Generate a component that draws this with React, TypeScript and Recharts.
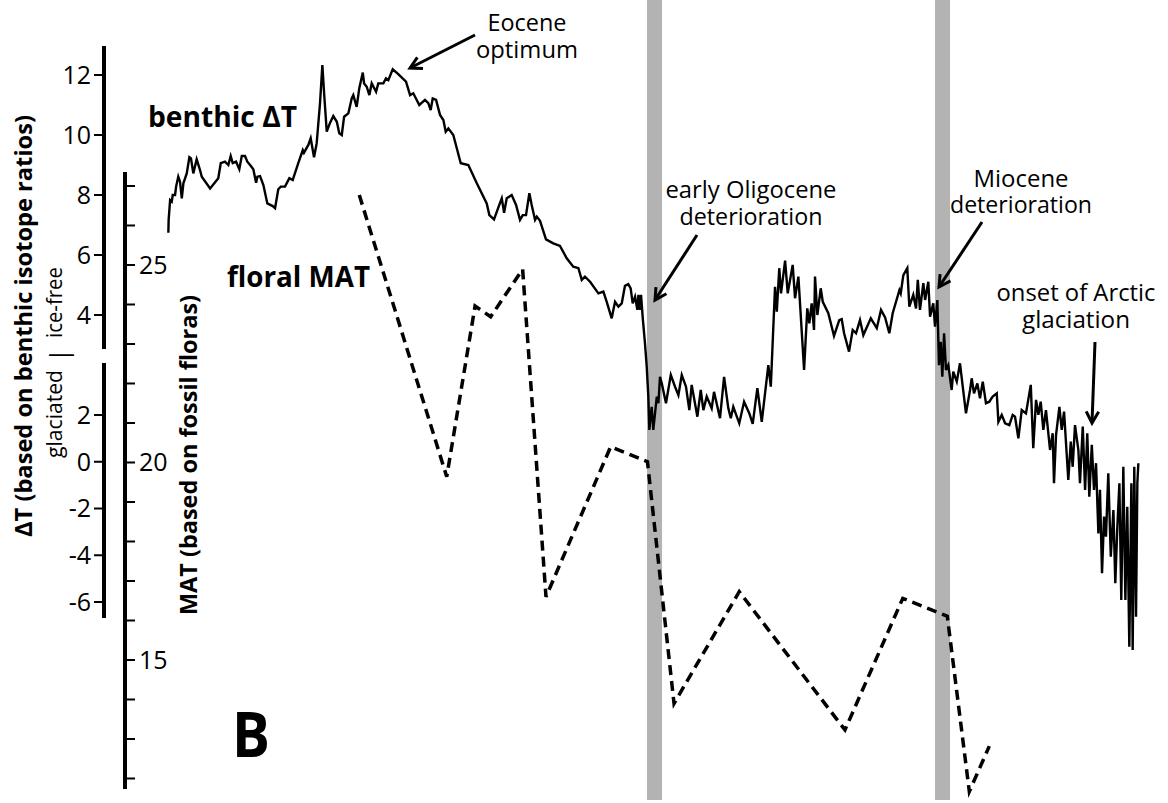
import React from 'react';
import { LineChart, Line, XAxis, YAxis, ReferenceArea } from 'recharts';

const W = 1168;
const H = 803;
const FONT = '"Open Sans", "Noto Sans", sans-serif';

// ---- data (age in Ma, older to the left) ----
const benthicAge = [
  67.03, 67.01, 66.91, 66.8, 66.73, 66.57, 66.5, 66.35, 66.23, 66.11,
  66.0, 65.77, 65.59, 65.48, 65.32, 65.09, 64.86, 64.74, 64.17, 63.61,
  63.44, 63.15, 62.92, 62.76, 62.62, 62.39, 62.17, 62.0, 61.78, 61.62,
  61.43, 61.21, 61.02, 60.93, 60.75, 60.52, 60.25, 59.88, 59.72, 59.5,
  59.33, 59.04, 58.74, 58.51, 58.13, 57.82, 57.74, 57.44, 57.28, 57.05,
  56.87, 56.64, 56.48, 56.36, 56.18, 55.95, 55.73, 55.49, 55.32, 55.15,
  54.99, 54.7, 54.47, 54.36, 54.13, 53.95, 53.71, 53.62, 53.44, 53.26,
  53.1, 52.8, 52.65, 52.3, 52.12, 51.96, 51.66, 51.28, 50.75, 50.47,
  50.25, 49.84, 49.45, 49.22, 49.06, 48.92, 48.69, 48.42, 48.19, 48.03,
  47.85, 47.51, 47.0, 46.48, 45.9, 45.22, 45.04, 44.72, 44.36, 44.19,
  44.03, 43.85, 43.51, 43.21, 42.94, 42.75, 42.53, 42.3, 42.14, 41.91,
  41.79, 41.57, 41.16, 40.66, 40.2, 39.74, 39.29, 38.94, 38.71, 38.49,
  38.14, 37.57, 37.23, 37.0, 36.66, 36.43, 36.2, 35.97, 35.75, 35.52,
  35.36, 35.22, 35.06, 34.9, 34.83, 34.72, 34.65, 34.53, 34.38, 34.26,
  34.15, 34.08, 33.92, 33.81, 33.57, 33.46, 33.35, 33.23, 32.94, 32.61,
  32.32, 32.09, 31.86, 31.57, 31.34, 31.18, 30.79, 30.56, 30.38, 30.15,
  29.81, 29.65, 29.24, 28.96, 28.67, 28.5, 28.33, 27.92, 27.59, 27.23,
  27.0, 26.68, 26.38, 25.93, 25.76, 25.47, 25.35, 25.18, 25.06, 24.78,
  24.6, 24.26, 24.1, 23.87, 23.48, 23.26, 23.12, 22.96, 22.8, 22.73,
  22.57, 22.34, 22.2, 21.82, 21.43, 21.07, 20.9, 20.74, 20.4, 20.15,
  19.92, 19.65, 19.42, 18.91, 18.5, 18.21, 17.93, 17.64, 17.41, 16.95,
  16.86, 16.68, 16.41, 16.27, 16.0, 15.81, 15.69, 15.54, 15.31, 15.19,
  14.97, 14.85, 14.63, 14.51, 14.35, 14.24, 14.12, 14.01, 13.89, 13.76,
  13.6, 13.37, 13.26, 13.02, 12.8, 12.61, 12.39, 12.11, 12.0, 11.84,
  11.61, 11.43, 11.24, 11.02, 10.79, 10.56, 10.28, 10.17, 9.94, 9.71,
  9.42, 9.19, 9.03, 8.8, 8.57, 8.28, 7.95, 7.78, 7.59, 7.43,
  7.27, 7.09, 6.91, 6.63, 6.45, 6.36, 6.22, 5.99, 5.83, 5.67,
  5.38, 5.21, 5.08, 4.92, 4.69, 4.58, 4.39, 4.23, 4.08, 3.94,
  3.77, 3.62, 3.48, 3.32, 3.21, 3.07, 2.93, 2.8, 2.64, 2.47,
  2.29, 2.16, 2.02, 1.88, 1.75, 1.61, 1.47, 1.34, 1.2, 1.06,
  0.97, 0.86, 0.74, 0.65, 0.58,
];

const benthicDeltaT = [
  6.74, 7.17, 7.83, 7.78, 8.0, 8.0, 8.28, 8.61, 8.44, 7.89,
  8.39, 8.72, 9.26, 9.22, 8.72, 9.19, 8.83, 8.61, 8.22, 8.56,
  9.06, 9.11, 9.0, 9.3, 9.06, 9.11, 8.86, 9.3, 9.3, 9.11,
  9.0, 8.86, 8.41, 8.61, 8.63, 8.33, 7.72, 7.63, 7.56, 8.19,
  8.28, 8.28, 8.56, 8.5, 9.06, 9.5, 9.41, 9.67, 9.89, 9.26,
  9.72, 11.06, 12.33, 11.39, 10.11, 10.41, 10.63, 10.44, 10.06, 10.0,
  10.61, 10.72, 11.22, 11.33, 10.94, 11.56, 12.08, 11.72, 11.61, 11.33,
  11.72, 11.44, 11.72, 11.72, 11.89, 11.83, 12.19, 12.03, 11.78, 11.33,
  11.39, 11.0, 11.17, 11.06, 10.83, 11.22, 11.17, 10.67, 10.5, 10.11,
  10.22, 10.0, 9.06, 9.0, 8.39, 7.72, 7.33, 7.19, 7.67, 7.89,
  7.41, 7.89, 8.0, 7.67, 7.17, 7.33, 7.33, 8.06, 7.67, 7.17,
  7.28, 7.14, 6.52, 6.39, 6.3, 5.89, 5.61, 5.56, 5.17, 5.28,
  5.11, 4.72, 4.78, 4.44, 3.89, 4.44, 4.28, 4.39, 4.97, 5.03,
  4.89, 4.39, 4.61, 4.17, 4.67, 4.17, 4.67, 3.89, 3.06, 2.28,
  1.28, 0.17, 0.94, 0.17, 1.28, 1.06, 1.94, 1.72, 1.06, 2.0,
  1.61, 1.33, 2.0, 1.61, 0.83, 1.67, 0.61, 1.5, 0.83, 1.28,
  0.89, 1.44, 0.56, 1.94, 0.89, 0.56, 0.94, 0.39, 1.11, 0.72,
  0.37, 1.56, 0.44, 2.33, 1.61, 4.94, 4.11, 5.56, 4.72, 5.81,
  4.72, 5.67, 4.56, 5.28, 2.17, 4.22, 3.72, 4.39, 3.5, 5.28,
  4.0, 4.89, 4.44, 4.06, 3.3, 3.83, 3.86, 3.39, 2.78, 3.5,
  3.39, 3.83, 3.33, 3.89, 3.56, 4.17, 3.92, 3.39, 4.06, 4.83,
  4.72, 5.33, 5.56, 4.28, 4.67, 4.22, 5.17, 4.17, 5.06, 4.5,
  5.11, 3.94, 4.39, 3.61, 4.5, 2.33, 3.11, 1.94, 3.39, 2.17,
  2.33, 1.5, 2.11, 1.78, 2.39, 1.61, 0.72, 1.5, 1.89, 1.39,
  1.72, 1.22, 1.78, 1.06, 1.11, 1.28, 1.39, 0.44, 0.67, 0.39,
  0.33, 0.67, 0.61, -0.11, 0.83, 0.72, 1.67, -0.44, 1.17, 0.67,
  1.11, 0.17, 0.83, -0.5, 0.06, -1.61, 0.0, 0.94, 0.17, 0.78,
  -1.5, -0.22, -1.06, 0.33, -0.5, -1.61, 0.28, -1.83, 0.06, -2.06,
  -0.33, -1.83, -0.94, -3.28, -1.83, -4.61, -2.72, -3.39, -1.28, -4.06,
  -2.5, -4.94, -3.06, -1.61, -5.5, -1.06, -5.5, -2.39, -7.06, -1.61,
  -7.17, -1.06, -6.06, -1.61, -0.94,
];

const floralAge = [53.95, 47.96, 46.02, 44.95, 42.76, 41.16, 36.73, 34.21, 32.39, 27.92, 20.68, 16.72, 13.67, 12.16, 10.79];
const floralMAT = [26.77, 19.64, 23.96, 23.69, 24.89, 16.6, 20.4, 20.02, 13.9, 16.73, 13.23, 16.56, 16.11, 11.67, 12.82];

const bandNames = ['early Oligocene', 'Miocene'];
const bandStart = [34.24, 14.51];
const bandEnd = [33.21, 13.48];

const dtUpperTicks = [4, 6, 8, 10, 12];
const dtLowerTicks = [-6, -4, -2, 0, 2];
const matTicks = [12, 13, 14, 15, 16, 17, 18, 19, 20, 21, 22, 23, 24, 25, 26, 27];
const matLabelled = [15, 20, 25];

const benthicData = benthicAge.map((age, i) => ({ age, dt: benthicDeltaT[i] }));
const floralData = floralAge.map((age, i) => ({ age, mat: floralMAT[i] }));
const dummy = [{ age: 0 }];

const abs: React.CSSProperties = { position: 'absolute', left: 0, top: 0 };
const axisLine = { stroke: '#000', strokeWidth: 4 };
const tickLine = { stroke: '#000', strokeWidth: 2 };
const tickStyle = { fill: '#000', fontSize: 25, fontFamily: FONT };

function Arrow({ x1, y1, x2, y2 }: { x1: number; y1: number; x2: number; y2: number }) {
  const ang = Math.atan2(y2 - y1, x2 - x1);
  const L = 13;
  const a = 0.5;
  const p1 = [x2 - L * Math.cos(ang - a), y2 - L * Math.sin(ang - a)];
  const p2 = [x2 - L * Math.cos(ang + a), y2 - L * Math.sin(ang + a)];
  return (
    <g stroke="#000" strokeWidth={3} fill="none">
      <line x1={x1} y1={y1} x2={x2} y2={y2} />
      <polyline points={`${p1[0]},${p1[1]} ${x2},${y2} ${p2[0]},${p2[1]}`} />
    </g>
  );
}

function Note({ x, y1, y2, l1, l2, w1, w2 }: { x: number; y1: number; y2: number; l1: string; l2: string; w1: number; w2: number }) {
  return (
    <text textAnchor="middle" fontSize={23}>
      <tspan x={x} y={y1} textLength={w1} lengthAdjust="spacingAndGlyphs">{l1}</tspan>
      <tspan x={x} y={y2} textLength={w2} lengthAdjust="spacingAndGlyphs">{l2}</tspan>
    </text>
  );
}

export default function App() {
  return (
    <div style={{ position: 'absolute', left: 0, top: 0, width: W, height: H, background: '#fff', overflow: 'hidden', fontFamily: FONT }}>
      {/* main data chart */}
      <LineChart width={W} height={H} margin={{ top: 0, right: 0, bottom: 3, left: 125 }} style={abs}>
        <XAxis type="number" dataKey="age" hide domain={[-1.45, 70]} reversed allowDataOverflow />
        <YAxis yAxisId="dt" type="number" hide domain={[-12.1667, 14.5]} allowDataOverflow />
        <YAxis yAxisId="mat" type="number" hide domain={[11.456, 31.709]} allowDataOverflow />
        {bandNames.map((n, i) => (
          <ReferenceArea key={n} yAxisId="dt" x1={bandStart[i]} x2={bandEnd[i]} fill="#b3b3b3" fillOpacity={1} stroke="none" ifOverflow="visible" />
        ))}
        <Line data={benthicData} yAxisId="dt" dataKey="dt" type="linear" stroke="#000" strokeWidth={2.4} dot={false} activeDot={false} isAnimationActive={false} />
        <Line data={floralData} yAxisId="mat" dataKey="mat" type="linear" stroke="#000" strokeWidth={3.5} strokeDasharray="10 6" dot={false} activeDot={false} isAnimationActive={false} />
      </LineChart>

      {/* MAT axis */}
      <LineChart width={W} height={H} data={dummy} margin={{ top: 172, right: 0, bottom: H - 789, left: 125 }} style={abs}>
        <XAxis dataKey="age" type="number" hide domain={[0, 1]} />
        <YAxis
          type="number"
          mirror
          domain={[11.734, 27.354]}
          allowDataOverflow
          ticks={matTicks}
          interval={0}
          tickSize={10}
          tickMargin={4}
          axisLine={axisLine}
          tickLine={tickLine}
          tick={tickStyle}
          tickFormatter={(v: number) => (matLabelled.includes(v) ? String(v) : '')}
        />
      </LineChart>

      {/* ΔT axis, upper (ice-free) segment */}
      <LineChart width={W} height={H} data={dummy} margin={{ top: 46, right: 0, bottom: H - 349, left: 0 }} style={abs}>
        <XAxis dataKey="age" type="number" hide domain={[0, 1]} />
        <YAxis
          type="number"
          width={104}
          domain={[2.867, 12.967]}
          allowDataOverflow
          ticks={dtUpperTicks}
          interval={0}
          tickSize={10}
          tickMargin={3}
          axisLine={axisLine}
          tickLine={tickLine}
          tick={tickStyle}
        />
      </LineChart>

      {/* ΔT axis, lower (glaciated) segment */}
      <LineChart width={W} height={H} data={dummy} margin={{ top: 363, right: 0, bottom: H - 618, left: 0 }} style={abs}>
        <XAxis dataKey="age" type="number" hide domain={[0, 1]} />
        <YAxis
          type="number"
          width={104}
          domain={[-6.684, 4.225]}
          allowDataOverflow
          ticks={dtLowerTicks}
          interval={0}
          tickSize={10}
          tickMargin={3}
          axisLine={axisLine}
          tickLine={tickLine}
          tick={tickStyle}
        />
      </LineChart>

      {/* labels and annotations */}
      <svg width={W} height={H} style={{ ...abs, pointerEvents: 'none' }} fontFamily={FONT} fill="#000">
        <text x={32} y={326} transform="rotate(-90 32 326)" textAnchor="middle" fontWeight="bold" fontSize={23} textLength={422} lengthAdjust="spacingAndGlyphs">
          ΔT (based on benthic isotope ratios)
        </text>
        <text x={62} y={338} transform="rotate(-90 62 338)" textAnchor="start" fontSize={21} textLength={71} lengthAdjust="spacingAndGlyphs">
          ice-free
        </text>
        <text x={62} y={458} transform="rotate(-90 62 458)" textAnchor="start" fontSize={21} textLength={88} lengthAdjust="spacingAndGlyphs">
          glaciated
        </text>
        <text x={68} y={355} transform="rotate(-90 68 355)" textAnchor="middle" fontSize={26}>|</text>
        <text x={197} y={455} transform="rotate(-90 197 455)" textAnchor="middle" fontWeight="bold" fontSize={23} textLength={320} lengthAdjust="spacingAndGlyphs">
          MAT (based on fossil floras)
        </text>

        <text x={148} y={127} fontWeight="bold" fontSize={28} textLength={149} lengthAdjust="spacingAndGlyphs">benthic ΔT</text>
        <text x={227} y={287} fontWeight="bold" fontSize={28} textLength={143} lengthAdjust="spacingAndGlyphs">floral MAT</text>
        <text x={232} y={757} fontWeight="bold" fontSize={63} textLength={38} lengthAdjust="spacingAndGlyphs">B</text>

        <Note x={527} y1={31} y2={58} l1="Eocene" l2="optimum" w1={79} w2={102} />
        <Note x={751} y1={198} y2={225} l1="early Oligocene" l2="deterioration" w1={171} w2={143} />
        <Note x={1021} y1={187} y2={213} l1="Miocene" l2="deterioration" w1={95} w2={142} />
        <Note x={1076} y1={301} y2={328} l1="onset of Arctic" l2="glaciation" w1={159} w2={108} />

        <Arrow x1={475} y1={35} x2={410} y2={68} />
        <Arrow x1={697} y1={235} x2={655} y2={300} />
        <Arrow x1={982} y1={222} x2={939} y2={287} />
        <Arrow x1={1095} y1={342} x2={1092} y2={423} />
      </svg>
    </div>
  );
}
